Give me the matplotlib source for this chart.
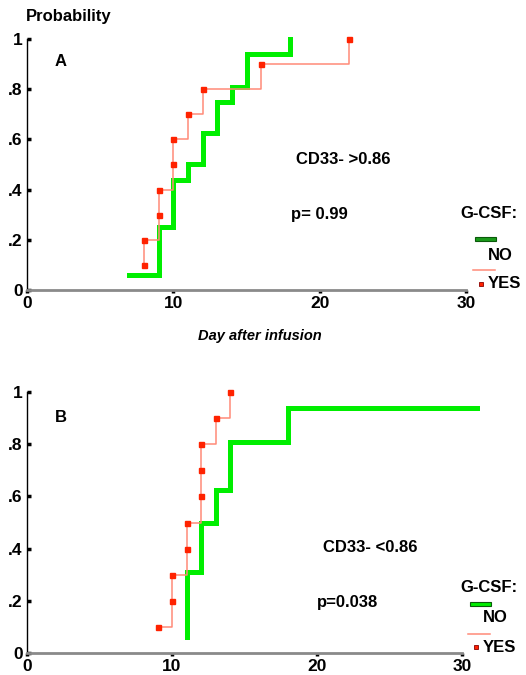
import matplotlib
matplotlib.use("Agg")
import matplotlib.pyplot as plt
from matplotlib.lines import Line2D
from matplotlib.patches import Rectangle

plt.rcParams["font.family"] = ["Liberation Sans", "DejaVu Sans"]
plt.rcParams["font.weight"] = "bold"

# panel A (CD33- >0.86)
a_no_days = [7, 9, 10, 11, 12, 13, 14, 15, 18]
a_no_prob = [0.06, 0.25, 0.44, 0.50, 0.625, 0.75, 0.81, 0.94, 1.0]
a_yes_days = [8, 8, 9, 9, 10, 10, 11, 12, 16, 22]
a_yes_prob = [0.1, 0.2, 0.3, 0.4, 0.5, 0.6, 0.7, 0.8, 0.9, 1.0]

# panel B (CD33- <0.86)
b_no_days = [11, 11, 12, 13, 14, 18, 31]
b_no_prob = [0.06, 0.31, 0.50, 0.625, 0.81, 0.94, 0.94]
b_yes_days = [9, 10, 10, 11, 11, 12, 12, 12, 13, 14]
b_yes_prob = [0.1, 0.2, 0.3, 0.4, 0.5, 0.6, 0.7, 0.8, 0.9, 1.0]

x_ticks = [0, 10, 20, 30]
y_ticks = [0, 0.2, 0.4, 0.6, 0.8, 1.0]
y_tick_labels = ["0", ".2", ".4", ".6", ".8", "1"]

GREEN = "#00ee00"
SALMON = "#ff8a78"
RED = "#ff2200"

W, H = 526, 675
fig = plt.figure(figsize=(W / 100, H / 100), dpi=100)


def box(x0, y0, x1, y1):
    # pixel box (top-left origin) -> figure fraction rect
    return [x0 / W, 1 - y1 / H, (x1 - x0) / W, (y1 - y0) / H]


def panel(rect, no_d, no_p, yes_d, yes_p):
    ax = fig.add_axes(rect)
    ax.step(no_d, no_p, where="post", color=GREEN, lw=3.6,
            solid_joinstyle="miter", clip_on=False, zorder=2)
    ax.step(yes_d, yes_p, where="post", color=SALMON, lw=1.1,
            clip_on=False, zorder=3)
    ax.plot(yes_d, yes_p, ls="none", marker="s", ms=3.6, color=RED,
            clip_on=False, zorder=4)
    ax.set_xlim(0, 30)
    ax.set_ylim(0, 1)
    ax.set_xticks(x_ticks)
    ax.set_yticks(y_ticks)
    ax.set_yticklabels(y_tick_labels)
    for s in ["top", "right"]:
        ax.spines[s].set_visible(False)
    ax.spines["left"].set_color("black")
    ax.spines["left"].set_linewidth(1.0)
    ax.spines["bottom"].set_color("#8a8a8a")
    ax.spines["bottom"].set_linewidth(2.0)
    ax.tick_params(axis="y", direction="in", length=3, width=2.5,
                   labelsize=12.5, pad=3)
    ax.tick_params(axis="x", direction="out", length=2, width=2.5,
                   labelsize=12.5, pad=2)
    return ax


panel(box(27, 39, 466, 290), a_no_days, a_no_prob, a_yes_days, a_yes_prob)
panel(box(27, 392, 462, 653), b_no_days, b_no_prob, b_yes_days, b_yes_prob)


def txt(x, y, s, size=12, **kw):
    fig.text(x / W, 1 - y / H, s, fontsize=size, fontweight="bold",
             va="center", **kw)


txt(26, 16, "Probability", 12)
txt(55, 62, "A", 12)
txt(55, 418, "B", 12)
txt(296, 160, "CD33- >0.86", 12)
txt(291, 214, "p= 0.99", 12)
txt(323, 548, "CD33- <0.86", 12)
txt(317, 603, "p=0.038", 12)
txt(260, 336, "Day after infusion", 10.5, ha="center", style="italic")


def legend(x0, ytitle, yno_line, yno, yyes_line, yyes, no_face):
    txt(460, ytitle, "G-CSF:", 12)
    fig.add_artist(Rectangle((x0 / W, 1 - (yno_line + 2) / H), 21 / W, 4 / H,
                             transform=fig.transFigure, facecolor=no_face,
                             edgecolor="#0a5a0a", lw=0.8))
    txt(x0 + 13, yno, "NO", 12)
    fig.add_artist(Line2D([(x0 - 2) / W, (x0 + 20) / W], [1 - yyes_line / H] * 2,
                          color=SALMON, lw=1.1))
    fig.add_artist(Line2D([(x0 + 6) / W], [1 - yyes / H], ls="none",
                          marker="s", ms=3.5, color=RED, mec="#880000", mew=0.6))
    txt(x0 + 13, yyes, "YES", 12)


legend(475, 213, 239, 256, 270, 284, "#1a9a1a")
legend(470, 588, 604, 618, 634, 647, GREEN)

fig.savefig("out.png", dpi=100)
